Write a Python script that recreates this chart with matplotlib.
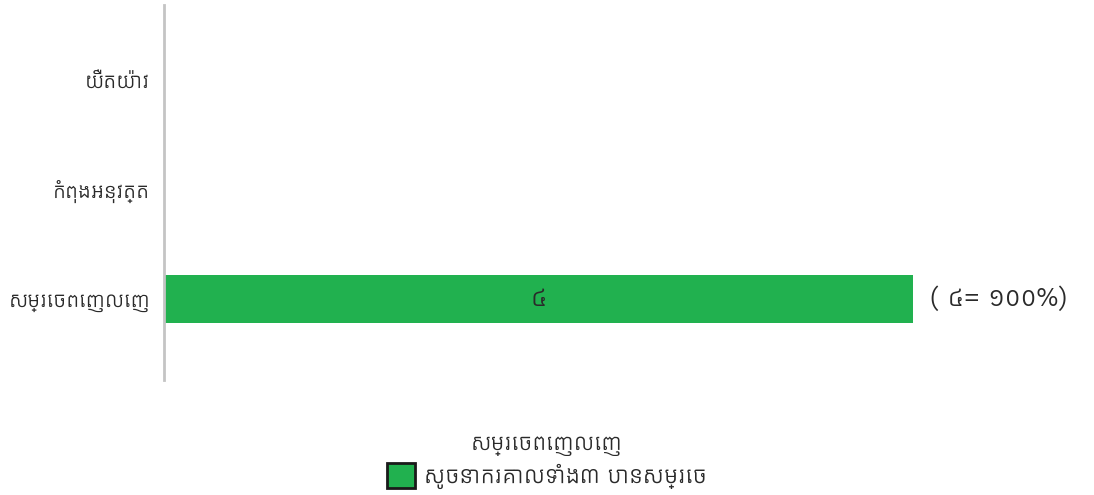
import matplotlib
matplotlib.use("Agg")
import matplotlib.pyplot as plt
from matplotlib.patches import Patch

# status categories, top to bottom
categories = ["យឺតយ៉ាវ", "កំពុងអនុវត្ត", "សម្រេចពេញលេញ"]
counts = [0, 0, 4]
bar_labels = ["", "", "៤"]
side_labels = ["", "", "( ៤= ១០០%)"]

legend_title = "សម្រេចពេញលេញ"
legend_entry = "សូចនាករគោលទាំង៣ បានសម្រេច"

KH = ["Kantumruy Pro", "DejaVu Sans"]
plt.rcParams["font.family"] = KH
text_color = "#2a2a2a"
green = "#21b14f"

fig = plt.figure(figsize=(10.94, 4.95), dpi=100)
ax = fig.add_axes([0.150, 0.232, 0.685, 0.758])

ypos = list(range(len(categories)))
bars = ax.barh(ypos, counts, height=0.44, color=green, edgecolor="none")

ax.set_xlim(0, max(counts))
ax.set_ylim(2.74, -0.68)
ax.set_yticks(ypos)
ax.set_yticklabels(categories, fontsize=15, color=text_color)
ax.tick_params(axis="y", length=0, pad=10)
ax.set_xticks([])

for s in ["top", "right", "bottom"]:
    ax.spines[s].set_visible(False)
ax.spines["left"].set_color("#c4c4c4")
ax.spines["left"].set_linewidth(2)

for b, lab, side in zip(bars, bar_labels, side_labels):
    y = b.get_y() + b.get_height() / 2
    if lab:
        ax.text(b.get_width() / 2, y, lab, ha="center", va="center",
                fontsize=19, color=text_color)
    if side:
        ax.annotate(side, xy=(b.get_width(), y), xytext=(12, 0),
                    textcoords="offset points", ha="left", va="center",
                    fontsize=19, color=text_color, annotation_clip=False)

handles = [Patch(facecolor=green, edgecolor="#1a1a1a", linewidth=2)]
leg = fig.legend(handles, [legend_entry], title=legend_title,
                 loc="lower center", bbox_to_anchor=(0.5, -0.03),
                 frameon=False, fontsize=16.5, title_fontsize=16,
                 handlelength=1.2, handleheight=1.3, handletextpad=0.4,
                 labelspacing=0.3)
leg.get_title().set_color(text_color)
for t in leg.get_texts():
    t.set_color(text_color)

fig.savefig("out.png", dpi=100)
